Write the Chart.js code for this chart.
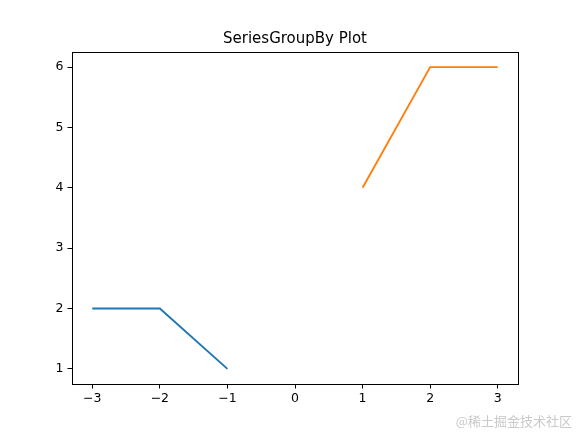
<!DOCTYPE html>
<html>
<head>
<meta charset="utf-8">
<script src="https://cdn.jsdelivr.net/npm/chart.js@4/dist/chart.umd.min.js"></script>
<style>
html,body{margin:0;padding:0;background:#fff;}
#wrap{width:576px;height:432px;position:relative;}
</style>
</head>
<body>
<div id="wrap"><canvas id="c" width="576" height="432"></canvas></div>
<script>
const titleText = "SeriesGroupBy Plot";
const watermark = "@稀土掘金技术社区";
const blueX = [-3, -2, -1];
const blueY = [2, 2, 1];
const orangeX = [1, 2, 3];
const orangeY = [4, 6, 6];
const xTicks = [-3, -2, -1, 0, 1, 2, 3];
const yTicks = [1, 2, 3, 4, 5, 6];

const fmt = v => (v < 0 ? "\u2212" + Math.abs(v) : String(v));

const frame = {
  id: 'frame',
  afterDraw(chart) {
    const {ctx, chartArea: a} = chart;
    ctx.save();
    ctx.strokeStyle = '#000';
    ctx.lineWidth = 1;
    ctx.strokeRect(Math.round(a.left) + 0.5, Math.round(a.top) + 0.5, Math.round(a.right - a.left), Math.round(a.bottom - a.top));
    ctx.font = '13px "Noto Sans CJK SC", sans-serif';
    ctx.fillStyle = '#c9c9c9';
    ctx.textAlign = 'right';
    ctx.textBaseline = 'middle';
    ctx.fillText(watermark, 572, 421);
    ctx.restore();
  }
};

new Chart(document.getElementById('c'), {
  type: 'scatter',
  data: {
    datasets: [
      { data: blueX.map((x, i) => ({x, y: blueY[i]})), showLine: true, borderColor: '#1f77b4', backgroundColor: '#1f77b4', borderWidth: 1.9, pointRadius: 0, tension: 0 },
      { data: orangeX.map((x, i) => ({x, y: orangeY[i]})), showLine: true, borderColor: '#ff7f0e', backgroundColor: '#ff7f0e', borderWidth: 1.9, pointRadius: 0, tension: 0 }
    ]
  },
  options: {
    responsive: false,
    animation: false,
    devicePixelRatio: 1,
    layout: { padding: { left: 14, right: 0, top: 0, bottom: 0 } },
    plugins: {
      legend: { display: false },
      tooltip: { enabled: false },
      title: {
        display: true,
        text: titleText,
        color: '#000',
        font: { family: '"DejaVu Sans"', size: 15, weight: 'normal' },
        padding: { top: 30, bottom: 4 }
      }
    },
    scales: {
      x: {
        type: 'linear',
        min: -3.3, max: 3.3,
        afterBuildTicks: s => { s.ticks = xTicks.map(v => ({value: v})); },
        afterFit: s => { s.height = 48; },
        ticks: { color: '#000', font: { family: '"DejaVu Sans"', size: 12.5 }, padding: 3, maxRotation: 0, autoSkip: false, callback: v => fmt(v) },
        grid: { drawOnChartArea: false, tickLength: 4.5, color: '#000', tickColor: '#000' },
        border: { color: '#000', width: 1 }
      },
      y: {
        type: 'linear',
        min: 0.75, max: 6.25,
        afterBuildTicks: s => { s.ticks = yTicks.map(v => ({value: v})); },
        afterFit: s => { s.width = 58; },
        ticks: { color: '#000', font: { family: '"DejaVu Sans"', size: 12.5 }, padding: 4, autoSkip: false, callback: v => fmt(v) },
        grid: { drawOnChartArea: false, tickLength: 4.5, color: '#000', tickColor: '#000' },
        border: { color: '#000', width: 1 }
      },
      y2: {
        type: 'linear',
        position: 'right',
        min: 0.75, max: 6.25,
        afterFit: s => { s.width = 58; },
        ticks: { display: false },
        grid: { display: false },
        border: { display: false }
      }
    }
  },
  plugins: [frame]
});
</script>
</body>
</html>
